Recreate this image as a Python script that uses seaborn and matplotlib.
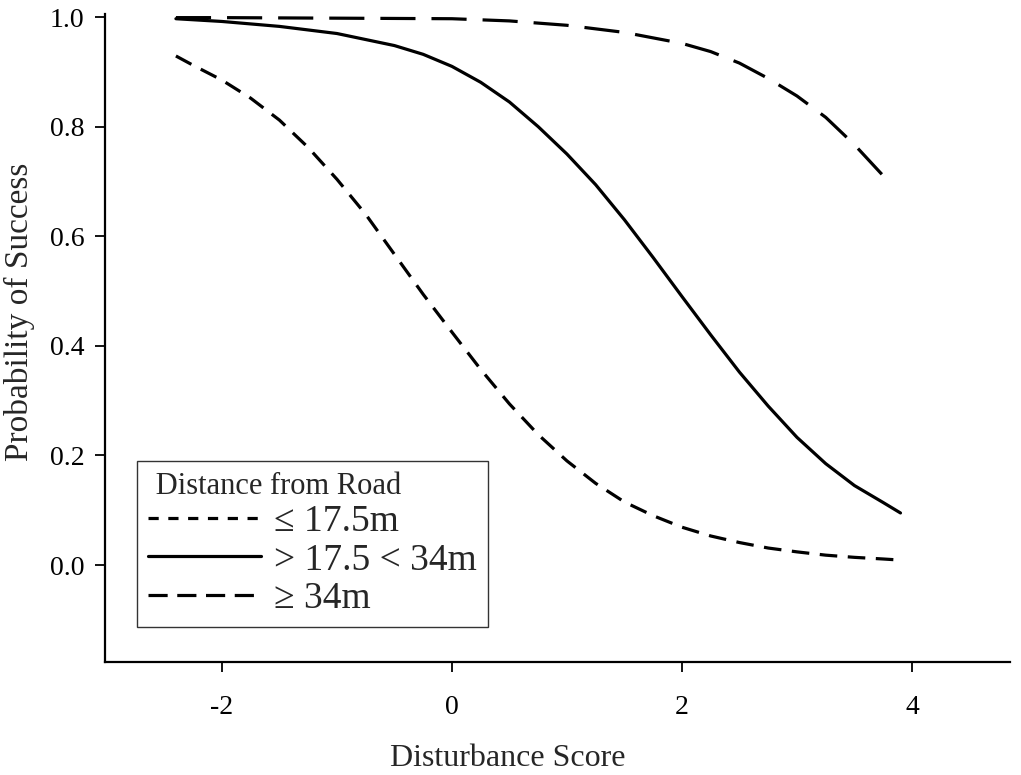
import numpy as np
import pandas as pd
import matplotlib
matplotlib.use("Agg")
import matplotlib.pyplot as plt
import seaborn as sns
from matplotlib.lines import Line2D

# values
x_near = [-2.4, -2.25, -2.0, -1.75, -1.5, -1.25, -1.0, -0.75, -0.5, -0.25, 0.0, 0.25, 0.5,
          0.75, 1.0, 1.25, 1.5, 1.75, 2.0, 2.25, 2.5, 2.75, 3.0, 3.25, 3.5, 3.75, 3.9]
p_near = [0.929, 0.912, 0.885, 0.852, 0.812, 0.762, 0.704, 0.640, 0.567, 0.494, 0.425, 0.357, 0.294,
          0.238, 0.190, 0.149, 0.115, 0.090, 0.069, 0.053, 0.041, 0.031, 0.024, 0.018, 0.014, 0.011, 0.009]

x_mid = [-2.4, -2.0, -1.5, -1.0, -0.5, -0.25, 0.0, 0.25, 0.5, 0.75, 1.0, 1.25, 1.5, 1.75,
         2.0, 2.25, 2.5, 2.75, 3.0, 3.25, 3.5, 3.75, 3.9]
p_mid = [0.997, 0.992, 0.983, 0.970, 0.948, 0.932, 0.910, 0.881, 0.845, 0.800, 0.750, 0.694, 0.630, 0.561,
         0.490, 0.420, 0.352, 0.290, 0.233, 0.185, 0.145, 0.114, 0.095]

x_far = [-2.4, -2.0, -1.0, 0.0, 0.5, 1.0, 1.5, 2.0, 2.25, 2.5, 2.75, 3.0, 3.25, 3.5, 3.8]
p_far = [0.999, 0.999, 0.998, 0.997, 0.993, 0.985, 0.972, 0.952, 0.937, 0.916, 0.888, 0.856, 0.817, 0.767, 0.699]

labels = ["\u2264 17.5m", "> 17.5 < 34m", "\u2265 34m"]
xticks = [-2, 0, 2, 4]
yticks = [0.0, 0.2, 0.4, 0.6, 0.8, 1.0]

sns.set_style("ticks")
plt.rcParams['font.family'] = ['Liberation Serif', 'DejaVu Serif']

fig = plt.figure(figsize=(10.21, 7.75), dpi=100)
ax = fig.add_axes([0.1028, 0.1458, 0.8864, 0.8357])

lw = 2.3
dash_near = (5.5, 3.3)
dash_far = (11, 5)

sns.lineplot(x=x_near, y=p_near, ax=ax, color='black', lw=lw, clip_on=False)
sns.lineplot(x=x_mid, y=p_mid, ax=ax, color='black', lw=lw, clip_on=False)
sns.lineplot(x=x_far, y=p_far, ax=ax, color='black', lw=lw, clip_on=False)
ax.lines[0].set_dashes(dash_near)
ax.lines[2].set_dashes(dash_far)

ax.set_xlim(-3.017, 4.852)
ax.set_ylim(-0.177, 1.005)
ax.set_xticks(xticks)
ax.set_xticklabels([str(t) for t in xticks])
ax.set_yticks(yticks)
ax.set_yticklabels([f"{t:.1f}" for t in yticks])
ax.tick_params(axis='both', labelsize=20, width=1.3, length=7, color='black', labelcolor='black')
ax.tick_params(axis='x', pad=17)
ax.tick_params(axis='y', pad=8)
for s in ['top', 'right']:
    ax.spines[s].set_visible(False)
for s in ['left', 'bottom']:
    ax.spines[s].set_linewidth(1.6)
    ax.spines[s].set_color('black')

ax.set_xlabel("Disturbance Score", fontsize=23)
ax.set_ylabel("Probability of Success", fontsize=24)
ax.xaxis.set_label_coords(0.445, -0.127)
ax.yaxis.set_label_coords(-0.077, 0.54)

handles = [Line2D([], [], color='black', lw=lw, dashes=(3.2, 3.0)),
           Line2D([], [], color='black', lw=lw),
           Line2D([], [], color='black', lw=lw, dashes=(6, 3))]
leg = ax.legend(handles, labels, title=" Distance from Road", loc='lower left',
                bbox_to_anchor=(0.0354, 0.054), frameon=True, fancybox=False,
                fontsize=27, title_fontsize=22, handlelength=3.0, handletextpad=0.35,
                labelspacing=0.1, borderpad=0.3, borderaxespad=0)
leg.get_frame().set_edgecolor('black')
leg.get_frame().set_linewidth(1.0)
leg._legend_box.align = "left"

fig.savefig("out.png", dpi=100)
